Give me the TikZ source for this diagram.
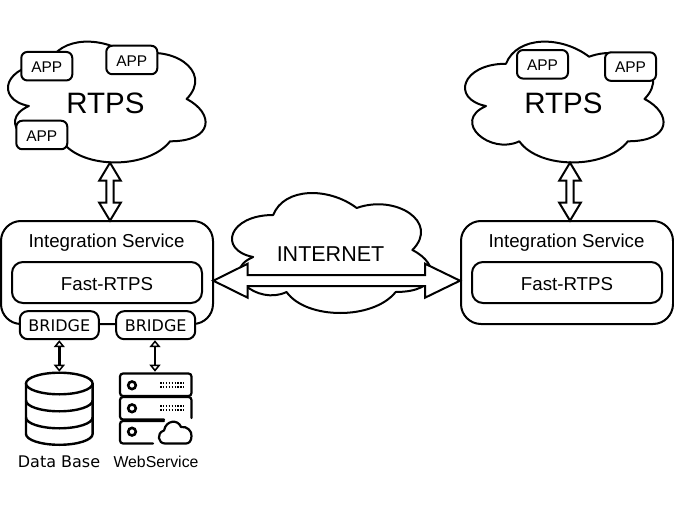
\documentclass[tikz,border=0pt]{standalone}
\usepackage{fontspec}
\setmainfont{DejaVu Sans}
\newfontfamily\arialfont{Liberation Sans}
\usetikzlibrary{arrows.meta,calc}
\tikzset{
  ln/.style={draw=black,line width=2pt,line join=round},
  cloudshape/.style={ln,fill=white},
  appbox/.style={ln,fill=white,rounded corners=6pt,minimum width=51pt,minimum height=28.5pt,inner sep=0pt,text height=12.6pt,text depth=0pt,font=\arialfont\fontsize{15.5}{18}\selectfont},
  bridgebox/.style={ln,fill=white,rounded corners=8pt,minimum width=79pt,minimum height=28pt,inner sep=0pt,font=\fontsize{16}{18}\selectfont},
  isbox/.style={ln,fill=white,rounded corners=20pt,minimum width=212pt,minimum height=103pt,inner sep=0pt},
  fastbox/.style={ln,fill=white,rounded corners=11pt,minimum width=190pt,minimum height=41pt,inner sep=0pt,text height=15.2pt,text depth=0pt,font=\arialfont\fontsize{18.7}{20}\selectfont},
  lab/.style={inner sep=0pt,yshift=-1pt,font=\arialfont\fontsize{18.7}{20}\selectfont},
  bigtext/.style={inner sep=0pt,yshift=-0.8pt,font=\arialfont\fontsize{29.5}{32}\selectfont},
  nettext/.style={inner sep=0pt,yshift=-0.8pt,font=\arialfont\fontsize{21.5}{26}\selectfont},
  caption/.style={inner sep=0pt,yshift=-0.7pt,font=\fontsize{16}{17}\selectfont},
  caption2/.style={inner sep=0pt,yshift=-0.7pt,font=\arialfont\fontsize{15.8}{17}\selectfont},
  smallarrow/.style={line width=2.4pt,{Triangle[open,fill=white,length=7pt,width=11pt,line width=1.5pt]}-{Triangle[open,fill=white,length=7pt,width=11pt,line width=1.5pt]},shorten <=0pt,shorten >=0pt},
}
\newcommand{\cloudpath}[4]{% x0 y0 w h
  \path[cloudshape,x=#3pt,y=-#4pt,shift={(#1pt,-#2pt)}]
    (0.25,0.25) .. controls (0.05,0.25) and (0,0.5) .. (0.16,0.55)
    .. controls (0,0.66) and (0.18,0.9) .. (0.31,0.8)
    .. controls (0.4,1) and (0.7,1) .. (0.8,0.8)
    .. controls (1,0.8) and (1,0.6) .. (0.875,0.5)
    .. controls (1,0.3) and (0.8,0.1) .. (0.625,0.2)
    .. controls (0.5,0.05) and (0.3,0.05) .. (0.25,0.25) -- cycle;}
\newcommand{\vdoublearrow}[2]{% top, bottom
  \path[ln,fill=white,line join=miter] (#1) -- ++(10.8,18) -- ++(-7.2,0) -- ($(#2)+(3.6,-18)$) -- ++(7.2,0) -- (#2)
    -- ++(-10.8,-18) -- ++(7.2,0) -- ($(#1)+(-3.6,18)$) -- ++(-7.2,0) -- cycle;}
\begin{document}
\begin{tikzpicture}[x=1pt,y=-1pt]
\useasboundingbox (0,0) rectangle (674,505);
% left RTPS
\cloudpath{-6.4}{28.5}{220.6}{141}
\node[appbox] (a1) at (46.8,66.2) {APP};
\node[appbox] (a2) at (131.8,60) {APP};
\node[appbox] (a3) at (41.8,135) {APP};
\node[bigtext] (rtpsl) at (105.5,102.5) {RTPS};
% right RTPS
\cloudpath{450.6}{28.5}{221.6}{141}
\node[appbox] (a4) at (542.5,64.3) {APP};
\node[appbox] (a5) at (630.5,66.6) {APP};
\node[bigtext] (rtpsr) at (563.5,102.5) {RTPS};
% internet
\cloudpath{217.5}{180}{222.7}{140}
\node[nettext] (net) at (330.5,253.5) {INTERNET};
% integration boxes
\node[isbox] (isl) at (107,272.5) {};
\node[isbox] (isr) at (567,272.5) {};
\node[lab] (isltext) at (106.5,241.5) {Integration Service};
\node[lab] (isrtext) at (566.5,241.5) {Integration Service};
\node[fastbox] (fl) at (107,282.5) {Fast-RTPS};
\node[fastbox] (fr) at (567,282.5) {Fast-RTPS};
\node[bridgebox] (b1) at (59.3,325.2) {BRIDGE};
\node[bridgebox] (b2) at (155.7,325.2) {BRIDGE};
% big arrows
\coordinate (t1) at (110,162.7); \coordinate (u1) at (110,220.7);
\coordinate (t2) at (570,162.7); \coordinate (u2) at (570,220.7);
\vdoublearrow{t1}{u1}
\vdoublearrow{t2}{u2}
\coordinate (hl) at (213.3,280.7); \coordinate (hr) at (460,280.7);
\path[ln,fill=white,line join=miter] (hl) -- ++(34.4,-17) -- ++(0,11.5) -- ($(hr)+(-35,-5.7)$) -- ++(0,-11.3) -- (hr)
  -- ++(-35,17) -- ++(0,-11.5) -- ($(hl)+(34.4,5.5)$) -- ++(0,11.5) -- cycle;
% database
\begin{scope}[line width=2.4pt]
\coordinate (dbc) at (59.3,383.5);
\draw[fill=white] (26,383.5) -- (26,434) arc[start angle=180,end angle=360,x radius=33.3,y radius=-10.8] -- (92.6,383.5);
\draw (dbc) ellipse[x radius=33.3,y radius=10.8];
\draw (26,400.5) arc[start angle=180,end angle=360,x radius=33.3,y radius=-10.8];
\draw (26,417.5) arc[start angle=180,end angle=360,x radius=33.3,y radius=-10.8];
\end{scope}
\coordinate (dbtop) at (59.3,371.7);
\coordinate (wstop) at (155,371.7);
\draw[smallarrow] (b1.south) -- (dbtop);
\draw[smallarrow] (b2.south -| wstop) -- (wstop);
% server
\begin{scope}[line width=2.2pt,line cap=round]
\draw[rounded corners=3pt] (120,373.5) rectangle (191.5,396);
\draw[rounded corners=3pt] (164,419.5) -- (120,419.5) -- (120,397) -- (191.5,397) -- (191.5,418);
\draw[rounded corners=3pt] (164,421) -- (120,421) -- (120,443.5) -- (153,443.5);
\foreach \yy in {385.3,408.3,431.7} \draw[line width=2.6pt] (132,\yy) circle[radius=3.8];
\draw[line join=round] (165,443.5) .. controls (158,443.5) and (156,433) .. (164,430.5)
 .. controls (166,420) and (178,419) .. (181,427)
 .. controls (187,426) and (192,431) .. (191.5,436)
 .. controls (191.5,441) and (189,443.5) .. (186,443.5) -- cycle;
\foreach \yy in {383,387,406,410} \draw[line width=1.5pt,line cap=butt,dash pattern=on 1.5pt off 1.4pt] (160,\yy) -- (184,\yy);
\end{scope}
\node[caption] (dbl) at (59,461) {Data Base};
\node[caption2] (wsl) at (156,461) {WebService};
\end{tikzpicture}
\end{document}
